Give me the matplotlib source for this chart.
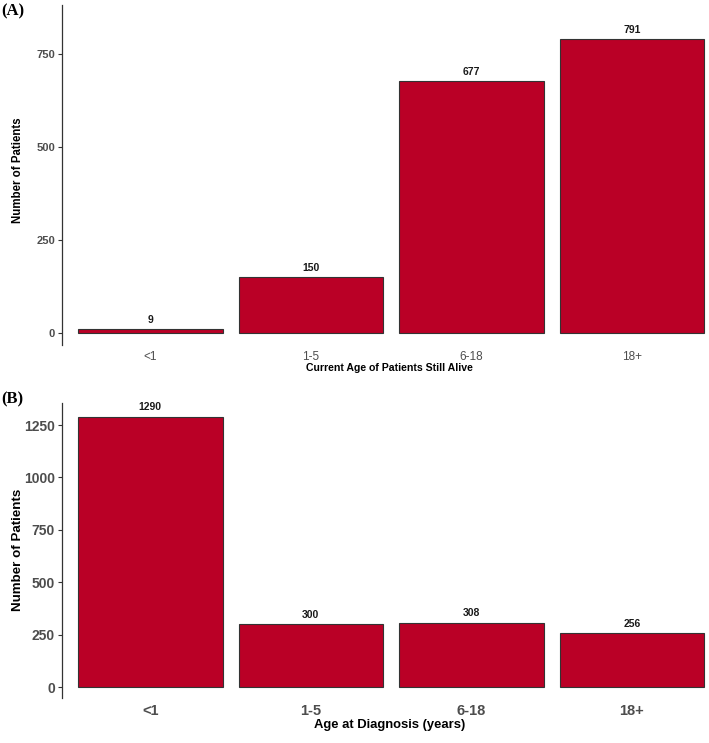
import matplotlib
matplotlib.use("Agg")
import matplotlib.pyplot as plt

plt.rcParams['font.family'] = ['Liberation Sans', 'DejaVu Sans']

cats_a = ["<1", "1-5", "6-18", "18+"]
vals_a = [9, 150, 677, 791]
cats_b = ["<1", "1-5", "6-18", "18+"]
vals_b = [1290, 300, 308, 256]

W, H = 709, 743
fig = plt.figure(figsize=(W / 100, H / 100), dpi=100)

BAR = "#BA0026"
EDGE = "#333333"
TICKC = "#4d4d4d"

def make_ax(left, top, right, bottom):
    return fig.add_axes([left / W, 1 - bottom / H, (right - left) / W, (bottom - top) / H])

def style(ax, cats, vals, ylim, yticks, xtick_fs, xtick_w, ytick_fs, ytick_w,
          ytitle_fs, xtitle_fs, lab_fs, xlabel, lab_off, box, xlab_y, ylab_y):
    left, top, right, bottom = box
    x = list(range(len(cats)))
    ax.bar(x, vals, width=0.9, color=BAR, edgecolor=EDGE, linewidth=0.8)
    for xi, v in zip(x, vals):
        ax.text(xi, v + lab_off, str(v), ha="center", va="bottom",
                fontsize=lab_fs, fontweight="bold", color="#1a1a1a")
    ax.set_xlim(-0.55, len(cats) - 1 + 0.48)
    ax.set_ylim(*ylim)
    ax.set_yticks(yticks)
    ax.set_xticks(x)
    ax.set_xticklabels(cats)
    for s in ["top", "right", "bottom"]:
        ax.spines[s].set_visible(False)
    ax.spines["left"].set_color("#333333")
    ax.spines["left"].set_linewidth(0.9)
    ax.tick_params(axis="x", length=0, labelsize=xtick_fs, labelcolor=TICKC, pad=4.5)
    ax.tick_params(axis="y", length=3, width=0.8, color="#333333", labelsize=ytick_fs,
                   labelcolor=TICKC, pad=2)
    for lab in ax.get_xticklabels():
        lab.set_fontweight(xtick_w)
    for lab in ax.get_yticklabels():
        lab.set_fontweight(ytick_w)
    ax.set_ylabel("Number of Patients", fontsize=ytitle_fs, fontweight="bold", va="center")
    ax.set_xlabel(xlabel, fontsize=xtitle_fs, fontweight="bold", va="center")
    hpx = bottom - top
    wpx = right - left
    ax.xaxis.set_label_coords(0.5 + 4 / wpx, (bottom - xlab_y) / hpx)
    ax.yaxis.set_label_coords((18 - left) / wpx, (bottom - ylab_y) / hpx)

boxA = (62, 5, 709, 345)
ax1 = make_ax(*boxA)
style(ax1, cats_a, vals_a, (-33, 883), [0, 250, 500, 750], 8.5, "normal", 8, "semibold",
      8.3, 7.6, 7.5, "Current Age of Patients Still Alive", 12, boxA, 368, 170)

boxB = (62, 403, 709, 698)
ax2 = make_ax(*boxB)
style(ax2, cats_b, vals_b, (-52, 1355), [0, 250, 500, 750, 1000, 1250], 10.5, "bold", 10,
      "bold", 9.6, 9.4, 7.5, "Age at Diagnosis (years)", 20, boxB, 725, 550)

fig.text(1 / W, 1 - 3 / H, "(A)", family="Liberation Serif", fontweight="bold",
         fontsize=12, ha="left", va="top")
fig.text(1 / W, 1 - 391 / H, "(B)", family="Liberation Serif", fontweight="bold",
         fontsize=12, ha="left", va="top")

fig.savefig("out.png", dpi=100)
